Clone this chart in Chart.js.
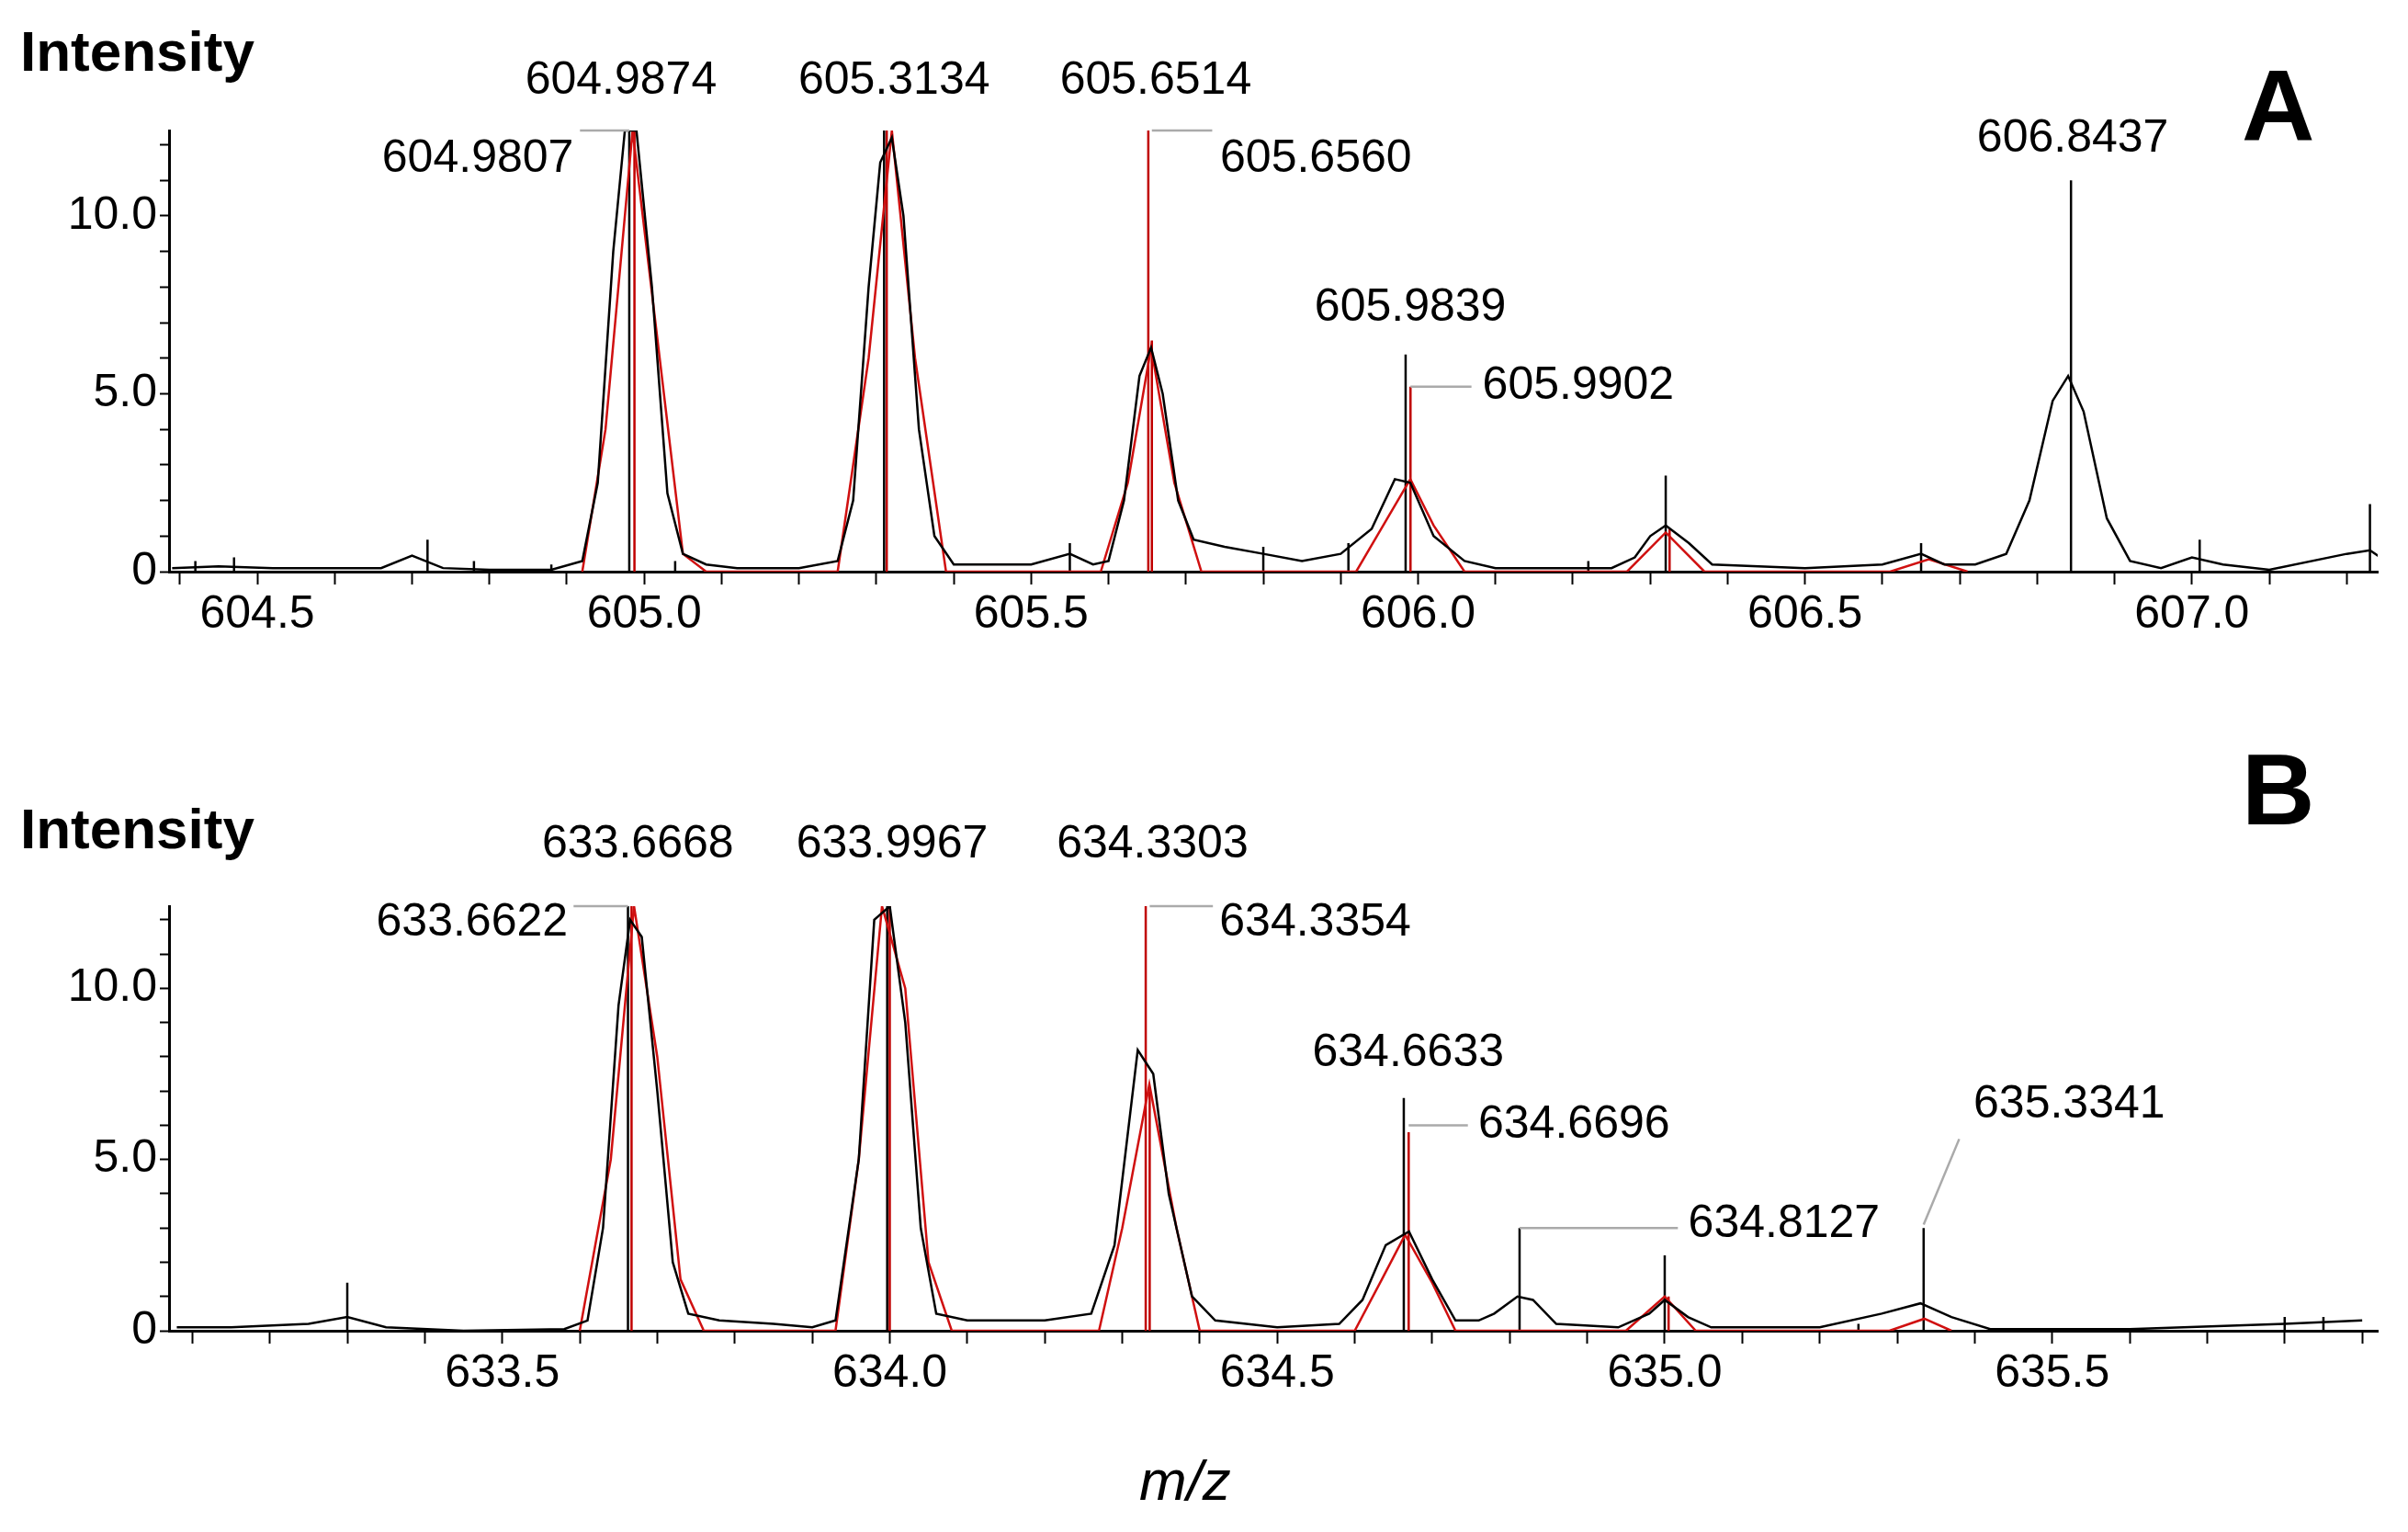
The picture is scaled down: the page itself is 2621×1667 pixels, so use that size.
<!DOCTYPE html>
<html><head><meta charset="utf-8">
<script src="https://cdn.jsdelivr.net/npm/chart.js@4/dist/chart.umd.min.js"></script>
<style>
body{margin:0;background:#fff;width:2621px;height:1667px;position:relative;overflow:hidden;font-family:"Liberation Sans",Arial,sans-serif}
canvas{position:absolute;left:0}
.t{position:absolute;color:#000}
</style></head><body>
<canvas id="chartA" style="top:0" width="2621" height="760"></canvas>
<canvas id="chartB" style="top:800px" width="2621" height="867"></canvas>
<div class="t" style="left:22px;top:20px;font-weight:bold;font-size:62px">Intensity</div>
<div class="t" style="left:22px;top:866px;font-weight:bold;font-size:62px">Intensity</div>
<div class="t" style="left:2440px;top:50px;font-weight:bold;font-size:110px">A</div>
<div class="t" style="left:2440px;top:795px;font-weight:bold;font-size:110px">B</div>
<div class="t" style="left:1240px;top:1575px;font-style:italic;font-size:62px">m/z</div>
<script>
// --- Panel A data ---
const profileA_black = [[604.39,0.1],[604.45,0.15],[604.52,0.1],[604.6,0.1],[604.66,0.1],[604.70,0.45],[604.74,0.1],[604.8,0.05],[604.88,0.05],[604.92,0.3],[604.94,2.5],[604.96,9],[604.975,12.4],[604.99,12.4],[605.01,8],[605.03,2.2],[605.05,0.5],[605.08,0.2],[605.12,0.1],[605.2,0.1],[605.25,0.3],[605.27,2],[605.29,8],[605.305,11.5],[605.32,12.2],[605.335,10],[605.355,4],[605.375,1],[605.4,0.2],[605.5,0.2],[605.55,0.5],[605.58,0.2],[605.6,0.3],[605.62,2],[605.64,5.5],[605.655,6.3],[605.67,5],[605.69,2],[605.71,0.9],[605.75,0.7],[605.8,0.5],[605.85,0.3],[605.9,0.5],[605.94,1.2],[605.97,2.6],[605.99,2.5],[606.02,1],[606.06,0.3],[606.1,0.1],[606.25,0.1],[606.28,0.4],[606.3,1],[606.32,1.3],[606.35,0.8],[606.38,0.2],[606.5,0.1],[606.6,0.2],[606.65,0.5],[606.68,0.2],[606.72,0.2],[606.76,0.5],[606.79,2],[606.82,4.8],[606.84,5.5],[606.86,4.5],[606.89,1.5],[606.92,0.3],[606.96,0.1],[607.0,0.4],[607.04,0.2],[607.1,0.05],[607.2,0.5],[607.23,0.6],[607.25,0.3]];
const profileA_red = [[604.92,0],[604.95,4],[604.985,12.4],[605.02,6],[605.05,0.5],[605.08,0],[605.25,0],[605.29,6],[605.32,12.4],[605.35,6],[605.39,0],[605.59,0],[605.625,2.5],[605.655,6.3],[605.685,2.5],[605.72,0],[605.92,0],[605.955,1.3],[605.99,2.6],[606.02,1.3],[606.06,0],[606.27,0],[606.32,1.1],[606.37,0],[606.61,0],[606.66,0.35],[606.71,0]];
const sticksA_black = [[604.42,0.3],[604.47,0.4],[604.72,0.9],[604.78,0.3],[604.88,0.2],[604.9807,12.4],[605.04,0.3],[605.31,12.4],[605.55,0.8],[605.8,0.7],[605.91,0.8],[605.9839,6.1],[606.22,0.3],[606.32,2.7],[606.65,0.8],[606.8437,11.0],[607.01,0.9],[607.23,1.9]];
const sticksA_red = [[604.9874,12.4],[605.3134,12.4],[605.6514,12.4],[605.656,6.5],[605.9902,5.2],[606.325,1.2]];
// label: text, text centre [mz, intensity], leader from [mz, int] to [mz, int] or null
const labelsA = [
  ['604.9874',[604.970,13.8],null],
  ['604.9807',[604.785,11.6],[[604.9807,12.4],[604.917,12.4]]],
  ['605.3134',[605.323,13.8],null],
  ['605.6514',[605.661,13.8],null],
  ['605.6560',[605.868,11.6],[[605.656,12.4],[605.734,12.4]]],
  ['605.9839',[605.990,7.4],null],
  ['605.9902',[606.207,5.2],[[605.9902,5.2],[606.069,5.2]]],
  ['606.8437',[606.846,12.15],null]
];
// --- Panel B data ---
const profileB_black = [[633.08,0.1],[633.15,0.1],[633.25,0.2],[633.3,0.4],[633.35,0.1],[633.45,0.0],[633.58,0.05],[633.61,0.3],[633.63,3],[633.65,9.5],[633.665,12],[633.68,11.5],[633.70,7],[633.72,2],[633.74,0.5],[633.78,0.3],[633.85,0.2],[633.9,0.1],[633.93,0.3],[633.96,5],[633.98,12],[634.0,12.4],[634.02,9],[634.04,3],[634.06,0.5],[634.1,0.3],[634.2,0.3],[634.26,0.5],[634.29,2.5],[634.32,8.2],[634.34,7.5],[634.36,4],[634.39,1],[634.42,0.3],[634.5,0.1],[634.58,0.2],[634.61,0.9],[634.64,2.5],[634.67,2.9],[634.7,1.5],[634.73,0.3],[634.76,0.3],[634.78,0.5],[634.81,1.0],[634.83,0.9],[634.86,0.2],[634.94,0.1],[634.98,0.5],[635.0,0.9],[635.03,0.4],[635.06,0.1],[635.2,0.1],[635.28,0.5],[635.33,0.8],[635.37,0.4],[635.42,0.05],[635.6,0.05],[635.8,0.2],[635.9,0.3]];
const profileB_red = [[633.6,0],[633.64,5],[633.67,12.4],[633.70,8],[633.73,1.5],[633.76,0],[633.93,0],[633.96,5],[633.99,12.4],[634.02,10],[634.05,2],[634.08,0],[634.27,0],[634.3,3],[634.335,7.2],[634.37,3],[634.4,0],[634.6,0],[634.635,1.5],[634.665,2.8],[634.7,1.4],[634.73,0],[634.95,0],[635.0,1.0],[635.04,0],[635.29,0],[635.335,0.35],[635.37,0]];
const sticksB_black = [[633.3,1.4],[633.6622,12.4],[633.9967,12.4],[634.6633,6.8],[634.8127,3.0],[635.0,2.2],[635.3341,3.0],[635.25,0.2],[635.8,0.4],[635.85,0.4]];
const sticksB_red = [[633.6668,12.4],[634.0,12.4],[634.3303,12.4],[634.3354,7.0],[634.6696,5.8],[635.005,1.0]];
const labelsB = [
  ['633.6668',[633.675,14.2],null],
  ['633.6622',[633.461,11.9],[[633.6622,12.4],[633.592,12.4]]],
  ['633.9967',[634.003,14.2],null],
  ['634.3303',[634.339,14.2],null],
  ['634.3354',[634.549,11.9],[[634.3354,12.4],[634.417,12.4]]],
  ['634.6633',[634.669,8.1],null],
  ['634.6696',[634.883,6.0],[[634.6696,6.0],[634.746,6.0]]],
  ['634.8127',[635.154,3.1],[[634.8127,3.0],[635.017,3.0]]],
  ['635.3341',[635.522,6.6],[[635.3341,3.1],[635.38,5.6]]]
];

const FONT = '"Liberation Sans Narrow","Liberation Sans",Arial,sans-serif';
const pts = a => a.map(p => ({x: p[0], y: p[1]}));
const sticks = a => a.flatMap(p => [{x: p[0], y: 0}, {x: p[0], y: p[1]}, {x: p[0], y: null}]);

const labelPlugin = {
  id: 'peakLabels',
  afterDraw(chart, args, opts) {
    const {ctx, scales: {x, y}} = chart;
    ctx.save();
    ctx.font = '50px ' + FONT;
    ctx.fillStyle = '#000';
    ctx.textAlign = 'center';
    ctx.textBaseline = 'middle';
    ctx.strokeStyle = '#aaa';
    ctx.lineWidth = 2.5;
    opts.labels.forEach(([t, c, lead]) => {
      if (lead) {
        ctx.beginPath();
        ctx.moveTo(x.getPixelForValue(lead[0][0]), y.getPixelForValue(lead[0][1]));
        ctx.lineTo(x.getPixelForValue(lead[1][0]), y.getPixelForValue(lead[1][1]));
        ctx.stroke();
      }
      ctx.fillText(t, x.getPixelForValue(c[0]), y.getPixelForValue(c[1]));
    });
    ctx.restore();
  }
};

function makeChart(id, black, red, sb, sr, labels, xmin, xmax, pad, xh) {
  new Chart(document.getElementById(id), {
    type: 'line',
    data: {
      datasets: [
        {data: pts(black), borderColor: '#000', borderWidth: 2.5},
        {data: pts(red), borderColor: '#d01010', borderWidth: 2.5},
        {data: sticks(sb), borderColor: '#000', borderWidth: 2.5, spanGaps: false},
        {data: sticks(sr), borderColor: '#c00000', borderWidth: 2.5, spanGaps: false}
      ]
    },
    options: {
      responsive: false,
      animation: false,
      elements: {point: {radius: 0}, line: {tension: 0}},
      layout: {padding: pad},
      plugins: {legend: {display: false}, tooltip: {enabled: false}, peakLabels: {labels}},
      scales: {
        x: {
          type: 'linear', min: xmin, max: xmax,
          afterBuildTicks: s => {
            const t = [];
            for (let v = Math.ceil(xmin * 10); v <= xmax * 10; v++) t.push({value: v / 10});
            s.ticks = t;
          },
          afterFit: s => { s.height = xh; },
          ticks: {
            color: '#000', font: {family: FONT, size: 50}, maxRotation: 0, autoSkip: false,
            callback: v => (Math.round(v * 10) % 5 === 0) ? v.toFixed(1) : ''
          },
          grid: {drawOnChartArea: false, color: '#000', tickLength: 14, tickWidth: 2},
          border: {color: '#000', width: 3}
        },
        y: {
          min: 0, max: 12.4,
          afterBuildTicks: s => {
            const t = [];
            for (let v = 0; v <= 12; v++) t.push({value: v});
            s.ticks = t;
          },
          afterFit: s => { s.width = 184; },
          ticks: {
            color: '#000', font: {family: FONT, size: 50}, autoSkip: false,
            callback: v => v === 0 ? '0' : (v % 5 === 0 ? v.toFixed(1) : '')
          },
          grid: {drawOnChartArea: false, color: '#000', tickLength: 10, tickWidth: 2},
          border: {color: '#000', width: 3}
        }
      }
    },
    plugins: [labelPlugin]
  });
}

makeChart('chartA', profileA_black, profileA_red, sticksA_black, sticksA_red, labelsA,
  604.386, 607.24, {top: 142, right: 33, left: 0, bottom: 0}, 138);
makeChart('chartB', profileB_black, profileB_red, sticksB_black, sticksB_red, labelsB,
  633.07, 635.92, {top: 186, right: 33, left: 0, bottom: 0}, 219);
</script>
</body></html>
